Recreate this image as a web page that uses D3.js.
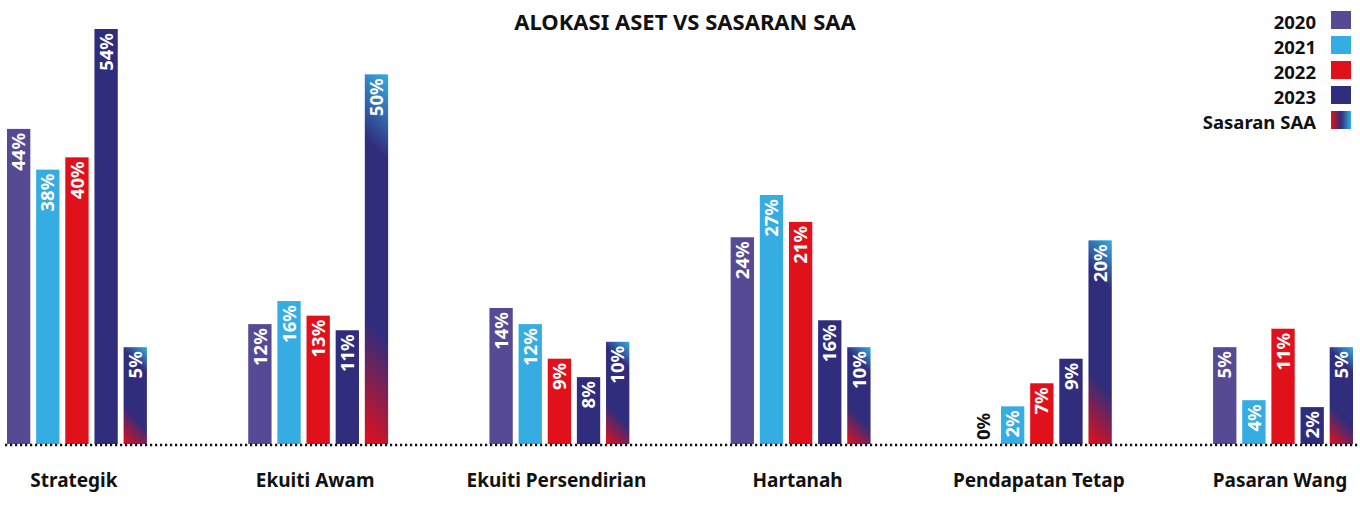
<!DOCTYPE html>
<html>
<head>
<meta charset="utf-8">
<script src="https://d3js.org/d3.v7.min.js"></script>
<style>
  body { margin: 0; background: #fff; }
  text { font-family: "Noto Sans", "Open Sans", sans-serif; font-weight: 700; }
</style>
</head>
<body>
<div id="chart"></div>
<script>
// categories and series
var categories = ["Strategik", "Ekuiti Awam", "Ekuiti Persendirian", "Hartanah", "Pendapatan Tetap", "Pasaran Wang"];
var series = ["2020", "2021", "2022", "2023", "Sasaran SAA"];

// percentage labels printed on each bar (per series, in category order)
var labels2020 = [44, 12, 14, 24, 0, 5];
var labels2021 = [38, 16, 12, 27, 2, 4];
var labels2022 = [40, 13, 9, 21, 7, 11];
var labels2023 = [54, 11, 8, 16, 9, 2];
var labelsSAA  = [5, 50, 10, 10, 20, 5];

// bar heights as drawn in the picture (the infographic is not to scale), read on its own % axis
var levels2020 = [41.0, 15.6, 17.7, 26.9, 0, 12.6];
var levels2021 = [35.7, 18.6, 15.6, 32.4, 4.9, 5.7];
var levels2022 = [37.3, 16.7, 11.1, 28.9, 7.9, 15.0];
var levels2023 = [54.0, 14.8, 8.7, 16.1, 11.1, 4.8];
var levelsSAA  = [12.6, 48.1, 13.3, 12.6, 26.5, 12.6];

var labelRows = [labels2020, labels2021, labels2022, labels2023, labelsSAA];
var levelRows = [levels2020, levels2021, levels2022, levels2023, levelsSAA];
var colors = ["#574a94", "#35ade2", "#e1111b", "#312d7d", null];

// set the dimensions
var width = 1360, height = 506;
var baseY = 444;

var svg = d3.select("#chart")
  .append("svg")
  .attr("width", width)
  .attr("height", height);

var defs = svg.append("defs");

// scales
var x0 = d3.scaleBand()
  .domain(categories)
  .range([7, 1353])
  .paddingInner(0.42)
  .paddingOuter(0);

var x1 = d3.scaleBand()
  .domain(series)
  .range([0, x0.bandwidth()])
  .paddingInner(0.2);

var y = d3.scaleLinear()
  .domain([0, 54])
  .range([baseY, 29]);

// flatten the data
var data = [];
categories.forEach(function(c, i) {
  series.forEach(function(s, j) {
    data.push({cat: c, ser: s, idx: i, label: labelRows[j][i], level: levelRows[j][i], color: colors[j]});
  });
});

// one diagonal gradient per SAA bar: red bottom-left, navy middle, light blue top-right
function addStops(g, navyFrom, navyTo) {
  g.append("stop").attr("offset", "0%").attr("stop-color", "#e3101b");
  g.append("stop").attr("offset", navyFrom).attr("stop-color", "#312d7d");
  g.append("stop").attr("offset", navyTo).attr("stop-color", "#312d7d");
  g.append("stop").attr("offset", "100%").attr("stop-color", "#35ade2");
}

data.filter(function(d) { return d.color === null; }).forEach(function(d) {
  var bx = x0(d.cat) + x1(d.ser), bw = x1.bandwidth();
  var h = baseY - y(d.level);
  var L = (bw + h) / 2;
  var g = defs.append("linearGradient")
    .attr("id", "saa" + d.idx)
    .attr("gradientUnits", "userSpaceOnUse")
    .attr("x1", bx).attr("y1", baseY)
    .attr("x2", bx + L).attr("y2", baseY - L);
  addStops(g, "32%", "78%");
  d.color = "url(#saa" + d.idx + ")";
});

var gradLeg = defs.append("linearGradient")
  .attr("id", "saaLegend")
  .attr("x1", 0).attr("y1", 0).attr("x2", 1).attr("y2", 0);
addStops(gradLeg, "50%", "50%");

// bars
svg.append("g")
  .selectAll("rect")
  .data(data)
  .enter()
  .append("rect")
    .attr("x", function(d) { return x0(d.cat) + x1(d.ser); })
    .attr("y", function(d) { return y(d.level); })
    .attr("width", x1.bandwidth())
    .attr("height", function(d) { return baseY - y(d.level); })
    .style("fill", function(d) { return d.color; });

// value labels, rotated inside the top of the bar
svg.append("g")
  .selectAll("text")
  .data(data)
  .enter()
  .append("text")
    .attr("transform", function(d) {
      var cx = x0(d.cat) + x1(d.ser) + x1.bandwidth() / 2;
      var ty = d.level > 0 ? y(d.level) + 4 : baseY - 4;
      return "translate(" + cx + "," + ty + ") rotate(-90)";
    })
    .attr("text-anchor", function(d) { return d.level > 0 ? "end" : "start"; })
    .attr("dy", "0.36em")
    .style("font-size", "18.5px")
    .style("fill", function(d) { return d.level > 0 ? "#fff" : "#111"; })
    .text(function(d) { return d.label + "%"; });

// dotted baseline
svg.append("line")
  .attr("x1", 5).attr("x2", 1360)
  .attr("y1", baseY + 1).attr("y2", baseY + 1)
  .style("stroke", "#111")
  .style("stroke-width", 2.5)
  .style("stroke-dasharray", "2.2,2.8");

// category labels
svg.append("g")
  .selectAll("text")
  .data(categories)
  .enter()
  .append("text")
    .attr("x", function(d) { return x0(d) + x0.bandwidth() / 2 - 3; })
    .attr("y", 487)
    .attr("text-anchor", "middle")
    .style("font-size", "19px")
    .style("fill", "#111")
    .text(function(d) { return d; });

// title
svg.append("text")
  .attr("x", 685)
  .attr("y", 30)
  .attr("text-anchor", "middle")
  .style("font-size", "22px")
  .style("fill", "#111")
  .text("ALOKASI ASET VS SASARAN SAA");

// legend
var legend = svg.append("g")
  .selectAll("g")
  .data(series)
  .enter()
  .append("g")
    .attr("transform", function(d, i) { return "translate(0," + (11 + i * 25) + ")"; });

legend.append("rect")
  .attr("x", 1331)
  .attr("width", 20)
  .attr("height", 18)
  .style("fill", function(d, i) { return i === 4 ? "url(#saaLegend)" : colors[i]; });

legend.append("text")
  .attr("x", 1316)
  .attr("y", 18)
  .attr("text-anchor", "end")
  .style("font-size", "18.5px")
  .style("fill", "#111")
  .text(function(d) { return d; });
</script>
</body>
</html>
